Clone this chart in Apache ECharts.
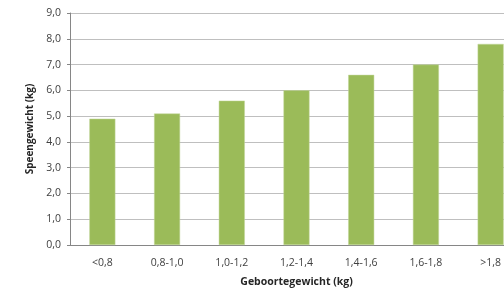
<!DOCTYPE html>
<html><head><meta charset="utf-8">
<script src="https://cdn.jsdelivr.net/npm/echarts@6/dist/echarts.min.js"></script>
<style>html,body{margin:0;padding:0;background:#fff}#c{width:504px;height:291px}</style>
</head><body><div id="c"></div>
<script>
const categories = ['<0,8','0,8-1,0','1,0-1,2','1,2-1,4','1,4-1,6','1,6-1,8','>1,8'];
const values = [4.9, 5.1, 5.6, 6.0, 6.6, 7.0, 7.8];
const yTicks = {min: 0, max: 9, interval: 1};
const chart = echarts.init(document.getElementById('c'), null, {renderer: 'canvas'});
const font = "'Open Sans', 'Liberation Sans', sans-serif";
chart.setOption({
  animation: false,
  grid: {left: 70, top: 13, width: 453, bottom: 46, containLabel: false, outerBoundsMode: 'none'},
  xAxis: {
    type: 'category', data: categories,
    axisLine: {lineStyle: {color: '#868686', width: 1}},
    axisTick: {show: false},
    axisLabel: {color: '#404040', fontSize: 10.5, fontFamily: font, margin: 13},
    name: 'Geboortegewicht (kg)', nameLocation: 'middle', nameGap: 32,
    nameTextStyle: {color: '#262626', fontSize: 10.5, fontWeight: 'bold', fontFamily: font}
  },
  yAxis: {
    type: 'value', min: yTicks.min, max: yTicks.max, interval: yTicks.interval,
    axisLine: {show: true, lineStyle: {color: '#868686'}},
    axisTick: {show: true, inside: false, length: 3, lineStyle: {color: '#868686'}},
    splitLine: {lineStyle: {color: '#BFBFBF', width: 1}},
    axisLabel: {color: '#404040', fontSize: 10.5, fontFamily: font, margin: 9,
      formatter: v => v.toFixed(1).replace('.', ',')},
    name: 'Speengewicht (kg)', nameLocation: 'middle', nameGap: 27,
    nameTextStyle: {color: '#262626', fontSize: 10, fontWeight: 'bold', fontFamily: font}
  },
  series: [{
    type: 'bar', data: values, barWidth: 26,
    itemStyle: {color: '#9BBB59', borderColor: '#C3D69B', borderWidth: 0.5}
  }]
});
</script></body></html>
